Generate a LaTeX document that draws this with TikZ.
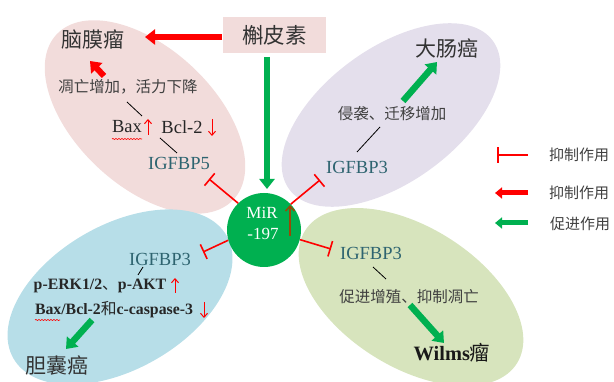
\documentclass[tikz,border=0pt]{standalone}
\usepackage{fontspec}
\setmainfont{Liberation Serif}
\newfontfamily\cjk{Noto Sans CJK SC}
\usetikzlibrary{arrows.meta,shapes.geometric,decorations.pathmorphing}
\definecolor{pinkE}{HTML}{F2DCDB}
\definecolor{purpE}{HTML}{E4DFEC}
\definecolor{blueE}{HTML}{B7DEE8}
\definecolor{greenE}{HTML}{D7E4BD}
\definecolor{mirG}{HTML}{00B050}
\definecolor{tealT}{HTML}{2E6470}
\definecolor{grayT}{HTML}{404040}
\definecolor{brownA}{HTML}{984807}
\begin{document}
\begin{tikzpicture}[x=1pt,y=-1pt,
  petal/.style={ellipse,inner sep=0pt,draw=none},
  big/.style={inner sep=0pt,font=\cjk\fontsize{21}{24}\selectfont,text=black!80},
  mid/.style={inner sep=0pt,font=\cjk\fontsize{15.5}{18}\selectfont,text=grayT},
  leg/.style={inner sep=0pt,font=\cjk\fontsize{15}{18}\selectfont,text=grayT},
  lat/.style={inner sep=0pt,font=\fontsize{18.5}{20}\selectfont,text=black!85},
  tealtxt/.style={inner sep=0pt,font=\fontsize{18.5}{20}\selectfont,text=tealT},
  blk/.style={inner sep=0pt,font=\bfseries\fontsize{15.8}{18}\selectfont,text=black!85},
  wil/.style={inner sep=0pt,font=\bfseries\fontsize{20.4}{24}\selectfont,text=black!90},
  redbig/.style={draw=red,line width=6pt,-{Triangle[length=10pt,width=15pt]}},
  greenbig/.style={draw=mirG,line width=6.5pt,-{Triangle[length=10pt,width=15pt]}},
  redleg/.style={draw=red,line width=5pt,-{Triangle[length=7pt,width=11pt]}},
  greenleg/.style={draw=mirG,line width=5pt,-{Triangle[length=7pt,width=11pt]}},
  inh/.style={draw=red,line width=1.6pt,-{Bar[width=16pt]}},
  thin/.style={draw=black,line width=0.8pt},
  redthin/.style={draw=red,line width=1pt,-{Straight Barb[length=4pt,width=7pt]}},
  wavy/.style={draw=red,line width=0.6pt,decorate,decoration={snake,amplitude=0.6pt,segment length=3pt}}
]
\useasboundingbox (0,0) rectangle (614,382);
% petals
\node[petal,fill=pinkE,minimum width=242pt,minimum height=138pt,rotate=-43] (ep) at (145,117) {};
\node[petal,fill=purpE,minimum width=252pt,minimum height=134pt,rotate=36] (eu) at (391,115) {};
\node[petal,fill=blueE,minimum width=246pt,minimum height=144pt,rotate=30] (eb) at (120,297) {};
\node[petal,fill=greenE,minimum width=250pt,minimum height=140pt,rotate=-32] (eg) at (411,297) {};
% centre
\node[circle,fill=mirG,minimum size=74pt,inner sep=0pt] (mir) at (264,230) {};
\node[inner sep=0pt,text=white,font=\fontsize{17}{19}\selectfont] (mirt1) at (262,213) {MiR};
\node[inner sep=0pt,text=white,font=\fontsize{17}{19}\selectfont] (mirt2) at (263,234) {-197};
\coordinate (brA) at (290,236);
\coordinate (brB) at (290,205);
\draw[draw=brownA,line width=1.5pt,-{Straight Barb[length=5pt,width=9pt]}] (brA) -- (brB);
% quercetin
\node[fill=pinkE,minimum width=103pt,minimum height=36pt,inner sep=0pt,font=\cjk\fontsize{21.5}{24}\selectfont,text=black!80] (hps) at (274.5,35) {槲皮素};
\coordinate (q1) at (222,37);
\coordinate (q2) at (145,37);
\draw[redbig] (q1) -- (q2);
\coordinate (q3) at (267,57);
\coordinate (q4) at (267,189);
\draw[greenbig] (q3) -- (q4);
% pink petal
\node[big] (nmt) at (93,40) {脑膜瘤};
\node[mid] (t1) at (128,87) {凋亡增加，活力下降};
\coordinate (p1) at (104,76);
\coordinate (p2) at (90,61);
\draw[redbig] (p1) -- (p2);
\node[lat] (bax1) at (127,127) {Bax};
\node[lat] (bcl1) at (182,127) {Bcl-2};
\draw[wavy] (112,139) -- (142,139);
\draw[redthin] (148,135) -- (148,119);
\draw[redthin] (212,119) -- (212,136);
\node[tealtxt] (ig5) at (179,163) {IGFBP5};
\coordinate (l1a) at (127,102);
\coordinate (l1b) at (142,116);
\draw[thin] (l1a) -- (l1b);
\coordinate (l2a) at (160,138);
\coordinate (l2b) at (177,153);
\draw[thin] (l2a) -- (l2b);
\coordinate (b1) at (209,179);
\draw[inh] (mir.134) -- (b1);
% purple petal
\node[big] (dcs) at (447,48) {大肠癌};
\node[mid] (t2) at (392,114) {侵袭、迁移增加};
\node[tealtxt] (ig3a) at (357,167) {IGFBP3};
\coordinate (u1) at (403,101);
\coordinate (u2) at (437,62);
\draw[greenbig] (u1) -- (u2);
\coordinate (u3) at (380,127);
\coordinate (u4) at (357,152);
\draw[thin] (u3) -- (u4);
\coordinate (b2) at (320,180);
\draw[inh] (mir.44) -- (b2);
% blue petal
\node[tealtxt] (ig3b) at (160,259) {IGFBP3};
\node[blk] (perk) at (100,286) {p-ERK1/2{\cjk\mdseries 、}p-AKT};
\node[blk] (bax2) at (114,310) {Bax/Bcl-2{\cjk\mdseries 和}c-caspase-3};
\draw[wavy] (35,320) -- (60,320);
\draw[redthin] (175,293) -- (175,278);
\draw[redthin] (204,302) -- (204,318);
\coordinate (s1) at (143,267);
\coordinate (s2) at (138,275);
\draw[thin] (s1) -- (s2);
\node[big] (dnz) at (57,365) {胆囊癌};
\coordinate (g1) at (92,320);
\coordinate (g2) at (66,349);
\draw[greenbig] (g1) -- (g2);
\coordinate (b3) at (203,252);
\draw[inh] (mir.196) -- (b3);
% green petal
\node[tealtxt] (ig3c) at (371,253) {IGFBP3};
\node[mid] (t3) at (409,297) {促进增殖、抑制凋亡};
\node[wil] (wil) at (452,353) {Wilms{\cjk\mdseries 瘤}};
\coordinate (w1) at (373,267);
\coordinate (w2) at (386,279);
\draw[thin] (w1) -- (w2);
\coordinate (w3) at (410,305);
\coordinate (w4) at (444,343);
\draw[greenbig] (w3) -- (w4);
\coordinate (b4) at (331,249);
\draw[inh] (mir.345) -- (b4);
% legend
\coordinate (lg1a) at (528,155);
\coordinate (lg1b) at (497,155);
\draw[inh] (lg1a) -- (lg1b);
\node[leg] (lt1) at (579,155) {抑制作用};
\coordinate (lg2a) at (528,193);
\coordinate (lg2b) at (495,193);
\draw[redleg] (lg2a) -- (lg2b);
\node[leg] (lt2) at (579,193) {抑制作用};
\coordinate (lg3a) at (528,223);
\coordinate (lg3b) at (495,223);
\draw[greenleg] (lg3a) -- (lg3b);
\node[leg] (lt3) at (580,224) {促进作用};
\end{tikzpicture}
\end{document}
